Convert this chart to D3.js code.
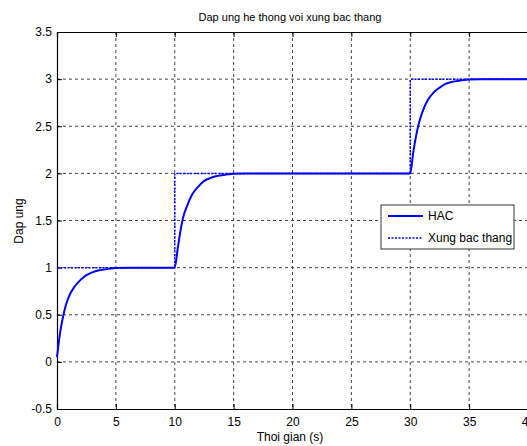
<!DOCTYPE html>
<html><head><meta charset="utf-8">
<script src="https://cdn.jsdelivr.net/npm/d3@7"></script>
<style>body{margin:0;background:#fff;}svg{display:block;font-family:"Liberation Sans",Arial,sans-serif;}</style>
</head><body>
<svg id="c" width="527" height="446"></svg>
<script>
const hacT = [0,0.25,0.5,0.75,1,1.5,2,2.5,3,3.5,4,5,6,10,
  10.25,10.5,10.75,11,11.5,12,12.5,13,13.5,14,15,16,30,
  30.25,30.5,30.75,31,31.5,32,32.5,33,33.5,34,35,36,40];
const hacY = [0.05,0.3,0.47,0.6,0.69,0.8,0.87,0.92,0.95,0.97,0.98,0.995,1.0,1.0,
  1.2,1.4,1.55,1.64,1.78,1.86,1.92,1.95,1.97,1.98,1.995,2.0,2.0,
  2.22,2.4,2.54,2.64,2.78,2.86,2.91,2.95,2.97,2.98,2.995,3.0,3.0];
const stepT = [0,10,10,30,30,40];
const stepY = [1,1,2,2,3,3];
const xTicks = [0,5,10,15,20,25,30,35,40];
const yTicks = [-0.5,0,0.5,1,1.5,2,2.5,3,3.5];
const legendLabels = ["HAC","Xung bac thang"];

const svg = d3.select("#c");
const L=57, T=32, R=528, B=409;
const x = d3.scaleLinear().domain([0,40]).range([L,R]);
const y = d3.scaleLinear().domain([-0.5,3.5]).range([B,T]);

// grid
const g = svg.append("g");
g.selectAll(".vg").data(xTicks.slice(1,-1)).join("line")
  .attr("x1",d=>x(d)).attr("x2",d=>x(d)).attr("y1",T).attr("y2",B)
  .attr("stroke","#444").attr("stroke-dasharray","3,3").attr("stroke-width",1);
g.selectAll(".hg").data(yTicks.slice(1,-1)).join("line")
  .attr("y1",d=>y(d)).attr("y2",d=>y(d)).attr("x1",L).attr("x2",R)
  .attr("stroke","#444").attr("stroke-dasharray","3,3").attr("stroke-width",1);

// axes
const xa = svg.append("g").attr("transform",`translate(0,${B})`)
  .call(d3.axisBottom(x).tickValues(xTicks).tickSize(-5).tickPadding(8).tickFormat(d3.format("d")));
const xt = svg.append("g").attr("transform",`translate(0,${T})`)
  .call(d3.axisTop(x).tickValues(xTicks).tickSize(-5).tickFormat(""));
const ya = svg.append("g").attr("transform",`translate(${L},0)`)
  .call(d3.axisLeft(y).tickValues(yTicks).tickSize(-5).tickPadding(5).tickFormat(d=>String(d)));
[xa,xt,ya].forEach(a=>{
  a.select(".domain").attr("stroke","#000").attr("stroke-width",1.2);
  a.selectAll(".tick line").attr("stroke","#000");
  a.selectAll("text").attr("font-size",12).attr("fill","#000")
   .attr("font-family","'Liberation Sans',Arial,sans-serif");
});

// lines
const line = d3.line().x(d=>x(d[0])).y(d=>y(d[1]));
const stepData = stepT.map((t,i)=>[t,stepY[i]]);
const hacData = hacT.map((t,i)=>[t,hacY[i]]);
svg.append("path").datum(stepData).attr("d",line).attr("fill","none")
  .attr("stroke","#0000ff").attr("stroke-width",1.5).attr("stroke-dasharray","2,1.5");
svg.append("path").datum(hacData).attr("d",d3.line().curve(d3.curveMonotoneX).x(d=>x(d[0])).y(d=>y(d[1])))
  .attr("fill","none").attr("stroke","#0000ff").attr("stroke-width",2);

// legend
const lg = svg.append("g");
lg.append("rect").attr("x",381).attr("y",205).attr("width",133).attr("height",44)
  .attr("fill","#fff").attr("stroke","#333").attr("stroke-width",1);
lg.append("line").attr("x1",388).attr("x2",423).attr("y1",216).attr("y2",216)
  .attr("stroke","#0000ff").attr("stroke-width",2);
lg.append("line").attr("x1",388).attr("x2",423).attr("y1",238).attr("y2",238)
  .attr("stroke","#0000ff").attr("stroke-width",1.5).attr("stroke-dasharray","2,1.5");
lg.selectAll("text").data(legendLabels).join("text")
  .attr("x",428).attr("y",(d,i)=>220+i*22).attr("font-size",12).text(d=>d);

// labels
svg.append("text").attr("x",290).attr("y",21).attr("text-anchor","middle").attr("font-size",11).text("Dap ung he thong voi xung bac thang");
svg.append("text").attr("x",290).attr("y",441).attr("text-anchor","middle").attr("font-size",12).text("Thoi gian (s)");
svg.append("text").attr("transform","translate(23,221) rotate(-90)").attr("text-anchor","middle").attr("font-size",12).text("Dap ung");
</script>
</body></html>
